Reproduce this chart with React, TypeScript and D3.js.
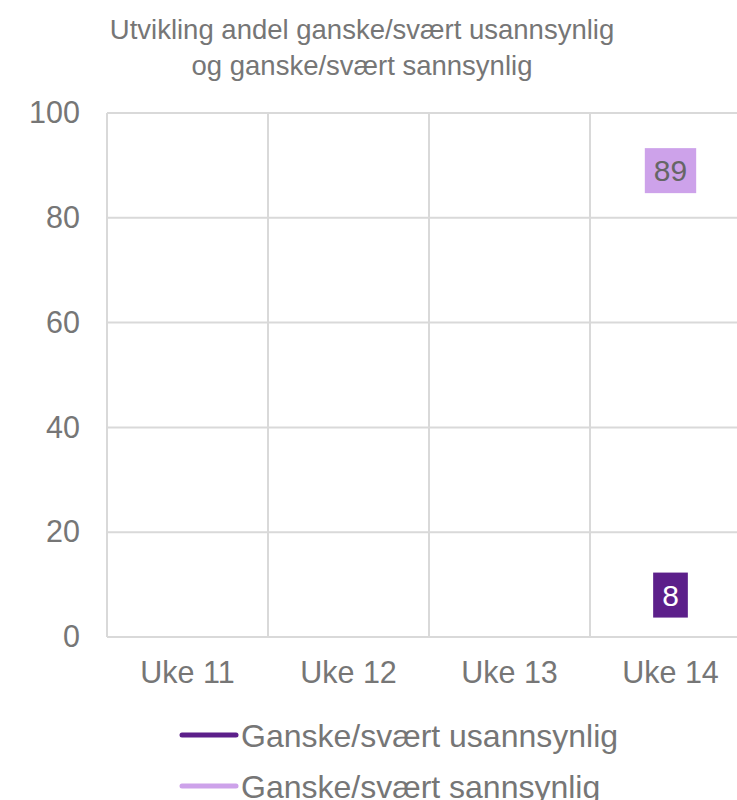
import React, { useEffect, useRef } from 'react';
import * as d3 from 'd3';

const categories = ['Uke 11', 'Uke 12', 'Uke 13', 'Uke 14'];
const usannsynlig: (number | null)[] = [null, null, null, 8];
const sannsynlig: (number | null)[] = [null, null, null, 89];
const yTicks = [0, 20, 40, 60, 80, 100];
const titleLines = ['Utvikling andel ganske/svært usannsynlig', 'og ganske/svært sannsynlig'];

const series = [
  { name: 'Ganske/svært usannsynlig', values: usannsynlig, color: '#5C1F8A', labelText: '#ffffff' },
  { name: 'Ganske/svært sannsynlig', values: sannsynlig, color: '#CDA2EA', labelText: '#666666' },
];

const width = 737;
const height = 800;
const font = '"Liberation Sans", Arial, sans-serif';
const textColor = '#767676';
const gridColor = '#d9d9d9';

const App = () => {
  const svgRef = useRef<SVGSVGElement | null>(null);

  useEffect(() => {
    const root = d3.select(svgRef.current);
    root.selectAll('*').remove();

    const margin = { top: 113, left: 107, bottom: 163 };
    const band = 161;

    const x = d3.scaleBand<string>()
      .domain(categories)
      .range([margin.left, margin.left + band * categories.length]);

    const y = d3.scaleLinear()
      .domain([0, 100])
      .range([height - margin.bottom, margin.top]);

    // Title
    root.append('g')
      .selectAll('text')
      .data(titleLines)
      .join('text')
      .attr('x', 362)
      .attr('y', (d, i) => 39 + i * 36)
      .attr('text-anchor', 'middle')
      .style('font-family', font)
      .style('font-size', '27.5px')
      .style('fill', textColor)
      .text(d => d);

    // Grid
    const grid = root.append('g');
    grid.selectAll('line.h')
      .data(yTicks)
      .join('line')
      .attr('class', 'h')
      .attr('x1', x.range()[0])
      .attr('x2', x.range()[1])
      .attr('y1', d => y(d))
      .attr('y2', d => y(d))
      .attr('stroke', gridColor)
      .attr('stroke-width', 2);

    const vEdges = categories.map(c => x(c) as number).concat(x.range()[1]);
    grid.selectAll('line.v')
      .data(vEdges)
      .join('line')
      .attr('class', 'v')
      .attr('x1', d => d)
      .attr('x2', d => d)
      .attr('y1', y(100))
      .attr('y2', y(0))
      .attr('stroke', gridColor)
      .attr('stroke-width', 2);

    // Y axis
    const yAxis = root.append('g')
      .attr('transform', `translate(${margin.left - 27},0)`)
      .call(d3.axisLeft(y).tickValues(yTicks).tickSize(0).tickPadding(0));
    yAxis.select('.domain').remove();
    yAxis.selectAll('text')
      .style('font-family', font)
      .style('font-size', '30.5px')
      .style('fill', textColor);

    // X axis
    const xAxis = root.append('g')
      .attr('transform', `translate(0,${y(0)})`)
      .call(d3.axisBottom(x).tickSize(0).tickPadding(24));
    xAxis.select('.domain').remove();
    xAxis.selectAll('text')
      .style('font-family', font)
      .style('font-size', '30.5px')
      .style('fill', textColor);

    // Lines
    const cx = (i: number) => (x(categories[i]) as number) + x.bandwidth() / 2;
    series.forEach(s => {
      const line = d3.line<number | null>()
        .defined(d => d !== null)
        .x((d, i) => cx(i))
        .y(d => y(d as number));
      root.append('path')
        .datum(s.values)
        .attr('fill', 'none')
        .attr('stroke', s.color)
        .attr('stroke-width', 4)
        .attr('stroke-linecap', 'round')
        .attr('d', line);
    });

    // Data labels
    series.forEach(s => {
      s.values.forEach((v, i) => {
        if (v === null) return;
        const g = root.append('g').attr('transform', `translate(${cx(i)},${y(v)})`);
        const t = g.append('text')
          .attr('text-anchor', 'middle')
          .attr('dy', '0.36em')
          .style('font-family', font)
          .style('font-size', '30px')
          .style('fill', s.labelText)
          .text(String(v));
        const bb = (t.node() as SVGTextElement).getBBox();
        g.insert('rect', 'text')
          .attr('x', bb.x - 9)
          .attr('y', -22.5)
          .attr('width', bb.width + 18)
          .attr('height', 45)
          .attr('fill', s.color);
      });
    });

    // Legend
    const legend = root.append('g')
      .selectAll('g')
      .data(series)
      .join('g')
      .attr('transform', (d, i) => `translate(182,${735 + i * 51})`);
    legend.append('line')
      .attr('x1', 0)
      .attr('x2', 54)
      .attr('stroke', d => d.color)
      .attr('stroke-width', 5)
      .attr('stroke-linecap', 'round');
    legend.append('text')
      .attr('x', 59)
      .attr('dy', '0.36em')
      .style('font-family', font)
      .style('font-size', '32px')
      .style('fill', textColor)
      .text(d => d.name);
  }, []);

  return (
    <div style={{ position: 'absolute', left: 0, top: 0 }}>
      <svg ref={svgRef} width={width} height={height} style={{ display: 'block' }} />
    </div>
  );
};

export default App;
